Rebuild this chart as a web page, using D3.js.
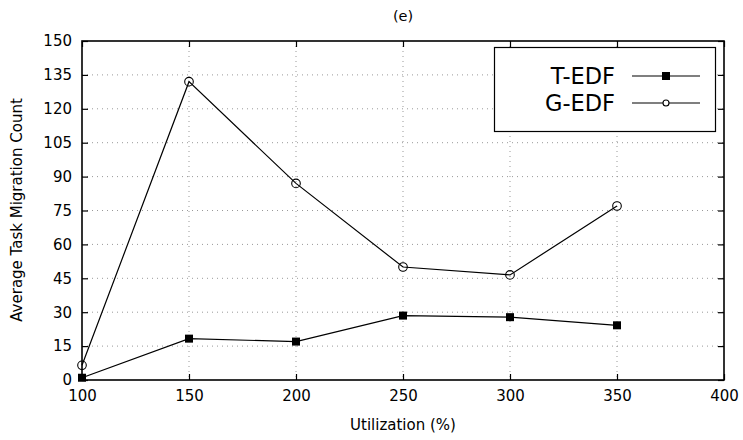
<!DOCTYPE html>
<html><head><meta charset="utf-8">
<script src="https://cdn.jsdelivr.net/npm/d3@7"></script>
<style>body{margin:0;background:#fff;} text{font-family:"DejaVu Sans",sans-serif;}</style>
</head><body>
<svg id="c" width="743" height="440"></svg>
<script>
const utilization = [100, 150, 200, 250, 300, 350];
const tedf = [1, 18.3, 17, 28.5, 27.8, 24.2];
const gedf = [6.5, 132, 87, 50, 46.5, 77];
const xTicks = [100, 150, 200, 250, 300, 350, 400];
const yTicks = [0, 15, 30, 45, 60, 75, 90, 105, 120, 135, 150];
const seriesNames = ["T-EDF", "G-EDF"];

const svg = d3.select("#c");
const L = 82, R = 724, T = 41, B = 380;
const x = d3.scaleLinear().domain([100, 400]).range([L, R]);
const y = d3.scaleLinear().domain([0, 150]).range([B, T]);

// grid
const g = svg.append("g");
g.selectAll(".gx").data(xTicks.slice(1, -1)).enter().append("line")
  .attr("x1", d => x(d)).attr("x2", d => x(d)).attr("y1", T).attr("y2", B)
  .attr("stroke", "#999").attr("stroke-width", 1).attr("stroke-dasharray", "1,4");
g.selectAll(".gy").data(yTicks.slice(1, -1)).enter().append("line")
  .attr("y1", d => y(d)).attr("y2", d => y(d)).attr("x1", L).attr("x2", R)
  .attr("stroke", "#999").attr("stroke-width", 1).attr("stroke-dasharray", "1,4");

// axes
const ax = svg.append("g").attr("transform", `translate(0,${B})`)
  .call(d3.axisBottom(x).tickValues(xTicks).tickSizeInner(-6).tickSizeOuter(0).tickPadding(10));
const ay = svg.append("g").attr("transform", `translate(${L},0)`)
  .call(d3.axisLeft(y).tickValues(yTicks).tickSizeInner(-6).tickSizeOuter(0).tickPadding(10));
const axT = svg.append("g").attr("transform", `translate(0,${T})`)
  .call(d3.axisTop(x).tickValues(xTicks).tickSizeInner(-6).tickSizeOuter(0).tickFormat(""));
const ayR = svg.append("g").attr("transform", `translate(${R},0)`)
  .call(d3.axisRight(y).tickValues(yTicks).tickSizeInner(-6).tickSizeOuter(0).tickFormat(""));
[ax, ay, axT, ayR].forEach(a => {
  a.select(".domain").remove();
  a.selectAll("line").attr("stroke", "#000").attr("stroke-width", 1.2);
  a.selectAll("text").attr("font-size", 15).attr("fill", "#000").attr("font-family", "DejaVu Sans");
});
svg.append("rect").attr("x", L).attr("y", T).attr("width", R - L).attr("height", B - T)
  .attr("fill", "none").attr("stroke", "#000").attr("stroke-width", 1.6);

// lines
const line = d3.line().x((d, i) => x(utilization[i])).y(d => y(d));
svg.append("path").datum(tedf).attr("d", line).attr("fill", "none").attr("stroke", "#000").attr("stroke-width", 1.2);
svg.append("path").datum(gedf).attr("d", line).attr("fill", "none").attr("stroke", "#000").attr("stroke-width", 1.2);
svg.selectAll(".sq").data(tedf).enter().append("rect")
  .attr("x", (d, i) => x(utilization[i]) - 4).attr("y", d => y(d) - 4)
  .attr("width", 8).attr("height", 8).attr("fill", "#000");
svg.selectAll(".ci").data(gedf).enter().append("circle")
  .attr("cx", (d, i) => x(utilization[i])).attr("cy", d => y(d)).attr("r", 4.3)
  .attr("fill", "none").attr("stroke", "#000").attr("stroke-width", 1.1);

// legend
svg.append("rect").attr("x", 494.5).attr("y", 47.5).attr("width", 221).attr("height", 84)
  .attr("fill", "#fff").attr("stroke", "#000").attr("stroke-width", 1.2);
const ly = [76, 103];
seriesNames.forEach((n, i) => {
  svg.append("text").attr("x", 615).attr("y", ly[i]).attr("dy", "0.36em").attr("text-anchor", "end")
    .attr("font-size", 22.5).text(n);
  svg.append("line").attr("x1", 632).attr("x2", 700).attr("y1", ly[i]).attr("y2", ly[i])
    .attr("stroke", "#000").attr("stroke-width", 1.2);
});
svg.append("rect").attr("x", 662).attr("y", ly[0] - 4).attr("width", 8).attr("height", 8).attr("fill", "#000");
svg.append("circle").attr("cx", 666).attr("cy", ly[1]).attr("r", 3).attr("fill", "#fff").attr("stroke", "#000").attr("stroke-width", 1.1);

// labels
svg.append("text").attr("x", 403).attr("y", 21).attr("text-anchor", "middle").attr("font-size", 14.5).text("(e)");
svg.append("text").attr("x", 403).attr("y", 430).attr("text-anchor", "middle").attr("font-size", 15).text("Utilization (%)");
svg.append("text").attr("transform", "translate(22,210) rotate(-90)").attr("text-anchor", "middle").attr("font-size", 15).text("Average Task Migration Count");
</script>
</body></html>
